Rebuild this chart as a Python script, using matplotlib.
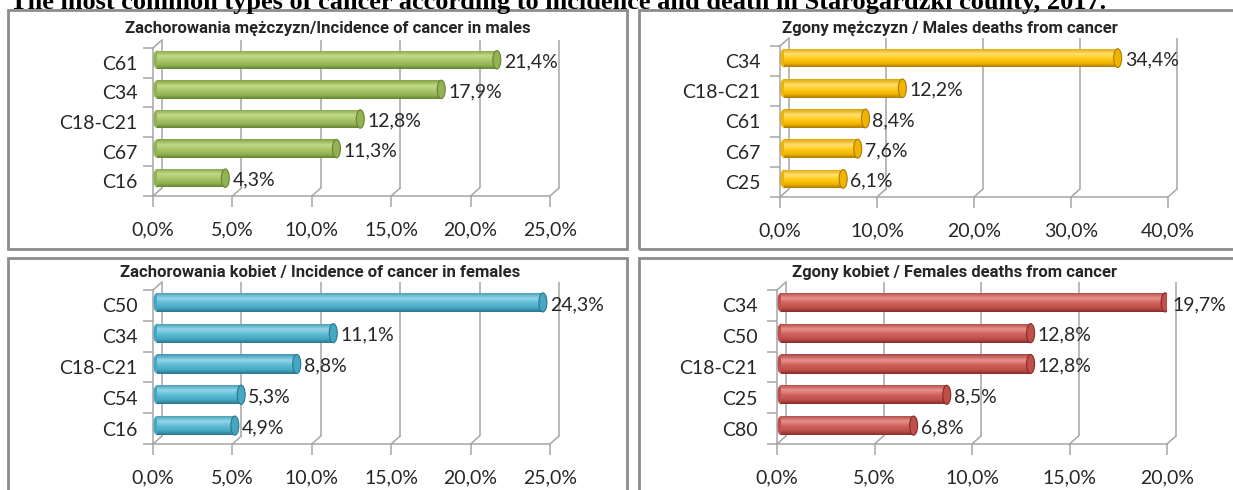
import matplotlib.pyplot as plt
import matplotlib.transforms as mtransforms
from matplotlib.colors import LinearSegmentedColormap
from matplotlib.patches import Rectangle, Ellipse
from matplotlib.lines import Line2D
import numpy as np

W, H = 1233, 490

# data
title = "The most common types of cancer according to incidence and death in Starogardzki county, 2017."

males_inc_title = "Zachorowania mężczyzn/Incidence of cancer in males"
males_inc_labels = ["C61", "C34", "C18-C21", "C67", "C16"]
males_inc_values = [21.4, 17.9, 12.8, 11.3, 4.3]

males_death_title = "Zgony mężczyzn / Males deaths from cancer"
males_death_labels = ["C34", "C18-C21", "C61", "C67", "C25"]
males_death_values = [34.4, 12.2, 8.4, 7.6, 6.1]

females_inc_title = "Zachorowania kobiet / Incidence of cancer in females"
females_inc_labels = ["C50", "C34", "C18-C21", "C54", "C16"]
females_inc_values = [24.3, 11.1, 8.8, 5.3, 4.9]

females_death_title = "Zgony kobiet / Females deaths from cancer"
females_death_labels = ["C34", "C50", "C18-C21", "C25", "C80"]
females_death_values = [19.7, 12.8, 12.8, 8.5, 6.8]

# cylinder shading, top edge -> bottom edge
green = ["#82a043", "#c2da88", "#a9c66a", "#93b254", "#66832f"]
yellow = ["#dca400", "#ffdf6e", "#ffcb18", "#f0b400", "#ac7c00"]
blue = ["#3d96ae", "#93d6e9", "#5ebdd6", "#45a7c1", "#2c768b"]
red = ["#ab4340", "#e8928e", "#d0605c", "#bf4f4b", "#882c2a"]

GRID = "#a6a6a6"
TXT = "#262626"
TICKFONT = ["Lato", "DejaVu Sans"]
TITLEFONT = ["Roboto", "DejaVu Sans"]

fig = plt.figure(figsize=(W / 100, H / 100), dpi=100)

# main title, cropped at the top like the source
fig.text(10 / W, 1 - 9 / H, title, family=["Liberation Serif", "DejaVu Serif"],
         fontweight="bold", fontsize=19, va="baseline", ha="left", color="black")

# panel frames
for (x0, y0, x1, y1) in [(8, 10, 627, 249), (639, 10, 1245, 249),
                         (8, 258, 627, 505), (639, 258, 1245, 505)]:
    fig.add_artist(Rectangle((x0 / W, 1 - y1 / H), (x1 - x0) / W, (y1 - y0) / H,
                             transform=fig.transFigure, fill=False,
                             edgecolor="#8c8c8c", lw=2.0))


def panel(box, xmax, step, labels, values, colors, ptitle, title_xy, ypad):
    x0, x1, ytop, ybot = box
    ax = fig.add_axes([x0 / W, 1 - ybot / H, (x1 - x0) / W, (ybot - ytop) / H])
    n = len(labels)
    ax.set_xlim(0, xmax)
    ax.set_ylim(n - 0.5, -0.5)
    ax.patch.set_visible(False)
    for s in ["top", "right"]:
        ax.spines[s].set_visible(False)
    for s in ["left", "bottom"]:
        ax.spines[s].set_color(GRID)
        ax.spines[s].set_linewidth(1.1)

    ticks = np.arange(0, xmax + step / 2, step)
    ax.set_xticks(ticks)
    ax.set_xticklabels([("%.1f%%" % t).replace(".", ",") for t in ticks])
    ax.tick_params(axis="x", length=8, width=1.1, color=GRID, pad=10,
                   labelsize=14, labelcolor=TXT)
    ax.set_yticks(range(n))
    ax.set_yticklabels(labels)
    ax.set_yticks(np.arange(-0.5, n, 1), minor=True)
    ax.tick_params(axis="y", which="major", length=0, pad=ypad,
                   labelsize=14, labelcolor=TXT)
    ax.tick_params(axis="y", which="minor", length=7, width=1.1, color=GRID)
    for lab in ax.get_xticklabels() + ax.get_yticklabels():
        lab.set_family(TICKFONT)

    dx, dy = 9, 8
    back = mtransforms.offset_copy(ax.transData, fig, x=dx, y=dy, units="dots")
    # back wall
    ax.vlines(ticks, -0.5, n - 0.5, colors=GRID, lw=1.1, transform=back,
              clip_on=False, zorder=1)
    # floor and top-left corner diagonals
    for t in ticks:
        px, py = ax.transData.transform((t, n - 0.5))
        fig.add_artist(Line2D([px, px + dx], [py, py + dy], color=GRID, lw=1.1,
                              transform=mtransforms.IdentityTransform()))
    px, py = ax.transData.transform((0, -0.5))
    fig.add_artist(Line2D([px, px + dx], [py, py + dy], color=GRID, lw=1.1,
                          transform=mtransforms.IdentityTransform()))

    # bars
    bar_tr = mtransforms.offset_copy(ax.transData, fig, x=4, y=3, units="dots")
    hgt = 0.62
    rects = ax.barh(range(n), values, height=hgt, color=colors[2], lw=0,
                    transform=bar_tr, zorder=3)
    cmap = LinearSegmentedColormap.from_list(
        "cyl", list(zip([0, 0.3, 0.55, 0.8, 1], colors)))
    grad = np.linspace(0, 1, 64).reshape(-1, 1)
    ppu = (x1 - x0) / xmax
    cap_w = 8 / ppu
    for i, (r, v) in enumerate(zip(rects, values)):
        ax.add_patch(Ellipse((0, i), cap_w, hgt, transform=bar_tr,
                             facecolor=colors[3], edgecolor="none", zorder=2.5))
        im = ax.imshow(grad, extent=[0, v, i + hgt / 2, i - hgt / 2],
                       aspect="auto", cmap=cmap, transform=bar_tr, zorder=3.5,
                       interpolation="bilinear")
        im.set_clip_path(r)
        ax.add_patch(Ellipse((v, i), cap_w, hgt, transform=bar_tr,
                             facecolor=colors[3], edgecolor=colors[4], lw=0.8,
                             zorder=4))
    lab_tr = mtransforms.offset_copy(ax.transData, fig, x=11, y=1, units="dots")
    for i, v in enumerate(values):
        ax.text(v, i, ("%.1f%%" % v).replace(".", ","), transform=lab_tr,
                ha="left", va="center", fontsize=14, color=TXT, family=TICKFONT,
                zorder=5, clip_on=False)
    ax.set_xlim(0, xmax)
    ax.set_ylim(n - 0.5, -0.5)

    fig.text(title_xy[0] / W, 1 - title_xy[1] / H, ptitle, family=TITLEFONT,
             fontweight="bold", fontsize=12, ha="center", va="center", color=TXT)


panel((153, 550, 48, 196), 25, 5, males_inc_labels, males_inc_values, green,
      males_inc_title, (328, 28), 11)
panel((780, 1168, 46, 197), 40, 10, males_death_labels, males_death_values, yellow,
      males_death_title, (950, 28), 14)
panel((153, 550, 290, 444), 25, 5, females_inc_labels, females_inc_values, blue,
      females_inc_title, (320, 273), 11)
panel((777, 1167, 290, 444), 20, 5, females_death_labels, females_death_values, red,
      females_death_title, (955, 273), 14)

fig.savefig("out.png", dpi=100)
